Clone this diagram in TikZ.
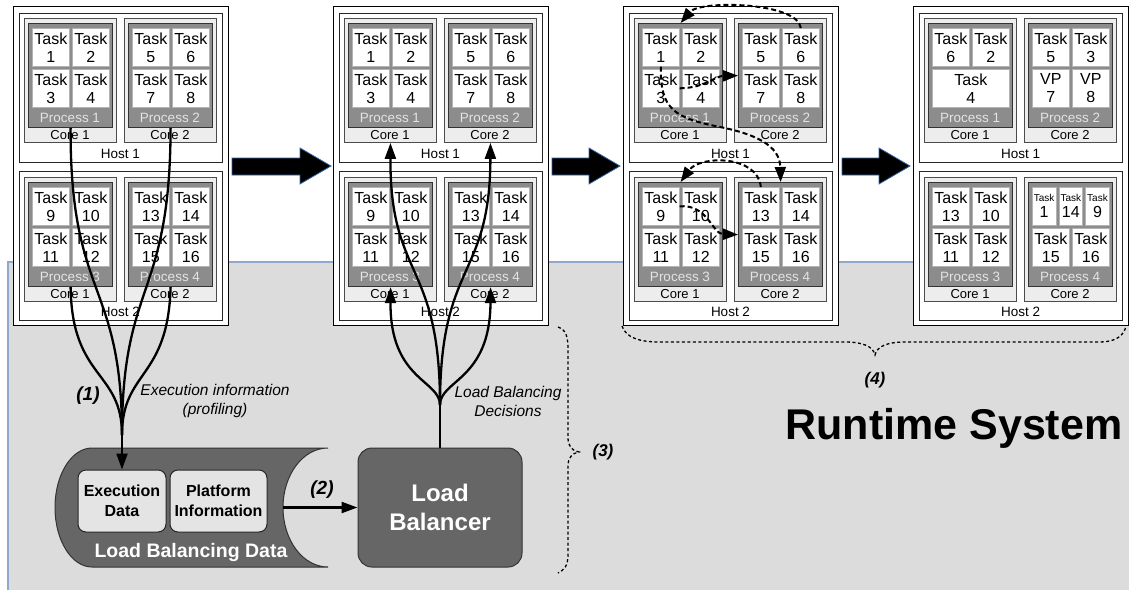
\documentclass[tikz,border=0pt]{standalone}
\usepackage{fontspec}
\setmainfont{Liberation Sans}
\usetikzlibrary{arrows.meta}
\definecolor{bggrey}{HTML}{DCDCDC}
\definecolor{bgline}{HTML}{8EA9CC}
\definecolor{coregrey}{HTML}{EDEDED}
\definecolor{procgrey}{HTML}{8C8C8C}
\definecolor{proctext}{HTML}{E4E4E4}
\definecolor{cellline}{HTML}{B4B4B4}
\definecolor{darkfill}{HTML}{666666}
\definecolor{boxgrey}{HTML}{E4E4E4}
\definecolor{arrowblue}{HTML}{3465A4}
\tikzset{
 outerbox/.style={draw=black, line width=1.2pt, fill=white, anchor=north west, inner sep=0pt, minimum width=215pt, minimum height=319pt},
 hostbox/.style={draw=black!85, line width=1pt, fill=white, anchor=north west, inner sep=0pt, minimum width=203pt, minimum height=149pt},
 corebox/.style={draw=black!70, line width=0.9pt, fill=coregrey, anchor=north west, inner sep=0pt, minimum width=92pt, minimum height=124pt},
 procbox/.style={draw=black!80, line width=1.2pt, fill=procgrey, anchor=north west, inner sep=0pt, minimum width=84pt, minimum height=104pt},
 cell/.style={draw=cellline, line width=0.6pt, fill=white, anchor=north west, inner sep=0pt, minimum height=38pt, align=center, font=\fontsize{16}{18}\selectfont},
 proclbl/.style={font=\fontsize{13.5}{14}\selectfont, text=proctext, inner sep=0pt},
 corelbl/.style={font=\fontsize{13}{14}\selectfont, inner sep=0pt},
 hostlbl/.style={font=\fontsize{13.5}{14}\selectfont, inner sep=0pt},
 conn/.style={line width=2.3pt, black},
 tip/.style={-{Triangle[length=16pt,width=11pt]}},
 mig/.style={line width=2pt, dash pattern=on 5pt off 3pt, -{Triangle[length=15pt,width=11pt]}},
 brace/.style={line width=1.3pt, dash pattern=on 3pt off 2.5pt},
 softbox/.style={draw=black!85, line width=1pt, fill=boxgrey, rounded corners=8pt, align=center, inner sep=0pt, font=\bfseries\fontsize{16}{20}\selectfont},
 lbbox/.style={draw=black!80, line width=1pt, fill=darkfill, rounded corners=14pt, align=center, inner sep=0pt, text=white, font=\bfseries\fontsize{24}{29}\selectfont, minimum width=164pt, minimum height=119pt},
 steplbl/.style={font=\bfseries\itshape\fontsize{19}{22}\selectfont, inner sep=0pt},
 note/.style={font=\itshape\fontsize{15.5}{19}\selectfont, align=center, inner sep=0pt},
 bigarrow/.style={fill=black, draw=arrowblue, line width=0.8pt}
}
\newcommand{\CoreProc}[5]{%
 \node[corebox] (#1) at (#2,#3) {};
 \node[procbox] (#1p) at (#2+4,#3+5) {};
 \node[proclbl] (#1pl) at (#2+46,#3+100) {#4};
 \node[corelbl] (#1cl) at (#2+46,#3+117) {#5};
}
\newcommand{\Cell}[5]{\node[cell, minimum width=#4pt] (#1) at (#2,#3) {#5};}
\newcommand{\Grid}[7]{%
 \Cell{#1a}{#2+4}{#3+5}{37}{#4}%
 \Cell{#1b}{#2+44}{#3+5}{37}{#5}%
 \Cell{#1c}{#2+4}{#3+46}{37}{#6}%
 \Cell{#1d}{#2+44}{#3+46}{37}{#7}}
\newcommand{\StdCells}[1]{%
 \Grid{#1p1}{28}{23}{Task\\1}{Task\\2}{Task\\3}{Task\\4}%
 \Grid{#1p2}{128}{23}{Task\\5}{Task\\6}{Task\\7}{Task\\8}%
 \Grid{#1p3}{28}{182}{Task\\9}{Task\\10}{Task\\11}{Task\\12}%
 \Grid{#1p4}{128}{182}{Task\\13}{Task\\14}{Task\\15}{Task\\16}}
\newcommand{\Panel}[3]{%
 \begin{scope}[xshift=#2pt]
 \node[outerbox] (#1out) at (13,6) {};
 \node[hostbox] (#1h1) at (19,13) {};
 \node[hostbox] (#1h2) at (19,171) {};
 \node[hostlbl] (#1h1l) at (120.5,154) {Host 1};
 \node[hostlbl] (#1h2l) at (120.5,312) {Host 2};
 \CoreProc{#1c1}{24}{18}{Process 1}{Core 1}
 \CoreProc{#1c2}{124}{18}{Process 2}{Core 2}
 \CoreProc{#1c3}{24}{177}{Process 3}{Core 1}
 \CoreProc{#1c4}{124}{177}{Process 4}{Core 2}
 #3
 \end{scope}}
\newcommand{\SmallTask}[1]{{\fontsize{10}{10}\selectfont Task}\\[-2pt]#1}
\begin{document}
\begin{tikzpicture}[x=1pt,y=-1pt]
\useasboundingbox (0,0) rectangle (1129,589);
\fill[white] (0,0) rectangle (1129,589);
% runtime system background
\filldraw[fill=bggrey, draw=bgline, line width=1.2pt] (8,262) rectangle (1140,600);

% panels
\Panel{a}{0}{\StdCells{a}}
\Panel{b}{320}{\StdCells{b}}
\Panel{c}{610}{\StdCells{c}}
\Panel{d}{900}{%
 \Cell{dp1a}{32}{28}{37}{Task\\6}
 \Cell{dp1b}{72}{28}{37}{Task\\2}
 \Cell{dp1c}{32}{69}{77}{Task\\4}
 \Grid{dp2}{128}{23}{Task\\5}{Task\\3}{VP\\7}{VP\\8}
 \Grid{dp3}{28}{182}{Task\\13}{Task\\10}{Task\\11}{Task\\12}
 \Cell{dp4a}{132}{187}{23.7}{\SmallTask{1}}
 \Cell{dp4b}{158.7}{187}{23.7}{\SmallTask{14}}
 \Cell{dp4c}{185.3}{187}{23.7}{\SmallTask{9}}
 \Cell{dp4d}{132}{228}{37}{Task\\15}
 \Cell{dp4e}{172}{228}{37}{Task\\16}
}

% big arrows between panels
\path[bigarrow] (232,158) -- (300,158) -- (300,148) -- (331,166) -- (300,184) -- (300,175) -- (232,175) -- cycle;
\path[bigarrow] (552,158) -- (589,158) -- (589,148) -- (620,166) -- (589,184) -- (589,175) -- (552,175) -- cycle;
\path[bigarrow] (842,158) -- (879,158) -- (879,148) -- (910,166) -- (879,184) -- (879,175) -- (842,175) -- cycle;

% load balancing data cylinder
\filldraw[fill=darkfill, draw=black!80, line width=1pt]
 (92,448) -- (328,448)
 .. controls (303.1,448) and (283,474.6) .. (283,507.5)
 .. controls (283,540.4) and (303.1,567) .. (328,567)
 -- (92,567)
 .. controls (71.6,567) and (55,540.4) .. (55,507.5)
 .. controls (55,474.6) and (71.6,448) .. (92,448) -- cycle;
\coordinate (cylR) at (283,507.5);
\node[softbox, minimum width=88pt, minimum height=62pt] (exd) at (122,501) {Execution\\Data};
\node[softbox, minimum width=97pt, minimum height=62pt] (plat) at (218.5,501) {Platform\\Information};
\node[font=\bfseries\fontsize{19.5}{22}\selectfont, text=white, inner sep=0pt] (lbdata) at (191,552) {Load Balancing Data};

% load balancer
\node[lbbox] (lb) at (440,507.5) {Load\\Balancer};
\draw[conn, -{Triangle[length=16pt,width=11pt]}] (cylR) -- (lb.west);
\node[steplbl] (s2) at (322,490) {(2)};

% panel 1 -> execution data
\coordinate (m1) at (122,435);
\draw[conn] (ac1p.south) .. controls (70,300) and (122,280) .. (m1);
\draw[conn] (ac2p.south) .. controls (170,300) and (122,280) .. (m1);
\draw[conn] (ac3p.south) .. controls (72,380) and (122,370) .. (m1);
\draw[conn] (ac4p.south) .. controls (168,380) and (122,370) .. (m1);
\draw[conn, tip] (m1) -- (exd.north);
\node[steplbl] (s1) at (88,396) {(1)};
\node[note] (n1) at (215,401) {Execution information\\(profiling)};

% load balancer -> panel 2
\coordinate (m2) at (440,405);
\draw[conn] (lb.north) -- (m2);
\draw[conn, tip] (m2) .. controls (440,260) and (390,280) .. (bc1.south);
\draw[conn, tip] (m2) .. controls (440,260) and (490,280) .. (bc2.south);
\draw[conn, tip] (m2) .. controls (440,380) and (390,380) .. (bc3p.south);
\draw[conn, tip] (m2) .. controls (440,380) and (490,380) .. (bc4p.south);
\node[note] (n2) at (508,401) {Load Balancing\\Decisions};

% panel 3 migrations
\draw[mig] (cp2b.north) .. controls (798,2) and (700,0) .. (cc1p.north);
\draw[mig] (cp1c.east) .. controls (705,88) and (715,76) .. (cc2p.west);
\draw[mig] (cp1a.south) .. controls (660,110) and (675,118) .. (720,127) .. controls (765,136) and (780,150) .. (cc4p.north);
\draw[mig] (cp4a.north) .. controls (758,155) and (700,155) .. (cc3p.north);
\draw[mig] (cp3a.east) .. controls (708,204) and (712,234) .. (cc4p.west);

% braces
\draw[brace] (558,327) .. controls (566,330) and (568,336) .. (568,350) -- (568,438) .. controls (568,446) and (572,451) .. (579,452) .. controls (572,453) and (568,458) .. (568,466) -- (568,555) .. controls (568,566) and (564,570) .. (558,573);
\node[steplbl, font=\bfseries\itshape\fontsize{17}{20}\selectfont] (s3) at (603,452) {(3)};
\draw[brace] (622,326) .. controls (626,338) and (640,342) .. (660,342) -- (845,342) .. controls (862,342) and (873,346) .. (875,355) .. controls (877,346) and (888,342) .. (905,342) -- (1100,342) .. controls (1115,342) and (1124,336) .. (1126,326);
\node[steplbl, font=\bfseries\itshape\fontsize{17}{20}\selectfont] (s4) at (875,380) {(4)};

\node[font=\bfseries\fontsize{43}{50}\selectfont, inner sep=0pt] (rts) at (954,428) {Runtime System};
\end{tikzpicture}
\end{document}
